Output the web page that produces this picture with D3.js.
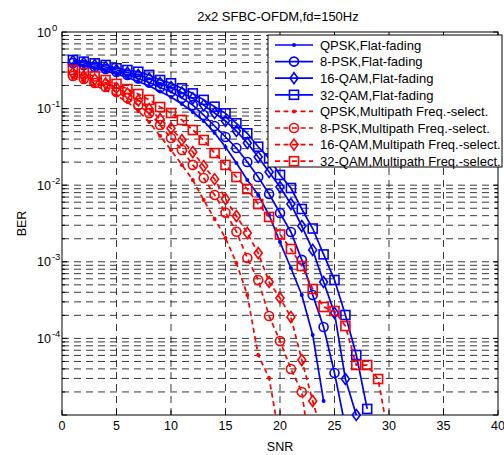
<!DOCTYPE html>
<html>
<head>
<meta charset="utf-8">
<script src="https://cdn.jsdelivr.net/npm/d3@7/dist/d3.min.js"></script>
<style>
body{margin:0;background:#fff;}
text{font-family:"Liberation Sans",Arial,sans-serif;fill:#000;}
</style>
</head>
<body>
<svg id="chart" width="504" height="455"></svg>
<script>
// SNR points (dB), one BER value per point, series stop where the curve stops
var snr = [1,2,3,4,5,6,7,8,9,10,11,12,13,14,15,16,17,18,19,20,21,22,23,24,25,26,27,28,29,30];

var qpskFlat = [0.382,0.360,0.334,0.310,0.283,0.255,0.226,0.197,0.167,0.142,0.115,0.0903,0.0689,0.0480,0.0315,0.0195,0.0117,0.00745,0.00408,0.00181,0.000830,0.000369,0.000111,0.0000152];
var psk8Flat = [0.394,0.371,0.349,0.329,0.300,0.275,0.247,0.219,0.189,0.165,0.138,0.111,0.0825,0.0593,0.0426,0.0306,0.0201,0.0128,0.00768,0.00434,0.00245,0.00106,0.000369,0.000141,0.0000353,0.0000070];
var qam16Flat = [0.418,0.394,0.371,0.349,0.319,0.296,0.275,0.247,0.216,0.191,0.162,0.136,0.111,0.0876,0.0689,0.0510,0.0356,0.0233,0.0149,0.00947,0.00568,0.00293,0.00143,0.000545,0.000215,0.0000295,0.0000100];
var qam32Flat = [0.431,0.410,0.390,0.371,0.336,0.319,0.303,0.275,0.236,0.214,0.184,0.158,0.130,0.106,0.0868,0.0643,0.0476,0.0318,0.0224,0.0136,0.00919,0.00489,0.00272,0.00125,0.000579,0.000202,0.0000607,0.0000120];

var qpskSel = [0.251,0.226,0.200,0.175,0.148,0.122,0.0930,0.0668,0.0439,0.0288,0.0184,0.0117,0.00641,0.00362,0.00204,0.000965,0.000369,0.0000607,0.0000304,0.0000047];
var psk8Sel = [0.266,0.243,0.216,0.191,0.165,0.138,0.111,0.0868,0.0611,0.0413,0.0288,0.0184,0.0124,0.00745,0.00438,0.00247,0.00112,0.000579,0.000196,0.0000925,0.0000399,0.0000200,0.0000020];
var qam16Sel = [0.292,0.266,0.240,0.213,0.186,0.157,0.128,0.0988,0.0731,0.0553,0.0389,0.0271,0.0178,0.0120,0.00660,0.00396,0.00238,0.00130,0.000545,0.000337,0.000190,0.0000522,0.0000152,0.0000049];
var qam32Sel = [0.319,0.292,0.263,0.236,0.210,0.180,0.155,0.130,0.105,0.0876,0.0710,0.0525,0.0389,0.0263,0.0184,0.0128,0.00892,0.00568,0.00385,0.00227,0.00147,0.000882,0.000442,0.000257,0.000228,0.000145,0.0000449,0.0000449,0.0000295,0.0000049];

var legendNames = ['QPSK,Flat-fading','8-PSK,Flat-fading','16-QAM,Flat-fading','32-QAM,Flat-fading',
  'QPSK,Multipath Freq.-select.','8-PSK,Multipath Freq.-select.','16-QAM,Multipath Freq.-select.','32-QAM,Multipath Freq.-select.'];

var xTicks = [0,5,10,15,20,25,30,35,40];
var yDecades = [0,-1,-2,-3,-4];

var series = [
  {vals: qpskFlat, color:'#0000ff', mark:'dot', dash:null},
  {vals: psk8Flat, color:'#0000ff', mark:'circle', dash:null},
  {vals: qam16Flat, color:'#0000ff', mark:'diamond', dash:null},
  {vals: qam32Flat, color:'#0000ff', mark:'square', dash:null},
  {vals: qpskSel, color:'#ff0000', mark:'dot', dash:'5,3.5'},
  {vals: psk8Sel, color:'#ff0000', mark:'circle', dash:'5,3.5'},
  {vals: qam16Sel, color:'#ff0000', mark:'diamond', dash:'5,3.5'},
  {vals: qam32Sel, color:'#ff0000', mark:'square', dash:'5,3.5'}
];

var pLeft = 62, pRight = 498, pTop = 32, pBottom = 415;
var svg = d3.select('#chart');

var x = d3.scaleLinear().domain([0, 40]).range([pLeft, pRight]);
var y = d3.scaleLog().domain([1e-5, 1]).range([pBottom, pTop]);

svg.append('defs').append('clipPath').attr('id', 'plotclip')
  .append('rect').attr('x', pLeft).attr('y', pTop).attr('width', pRight-pLeft).attr('height', pBottom-pTop);

// grid, dashed like matlab
var grid = svg.append('g').attr('stroke', '#222').attr('stroke-width', 0.9).attr('stroke-dasharray', '7,5');
xTicks.slice(1, -1).forEach(function(t){
  grid.append('line').attr('x1', x(t)).attr('x2', x(t)).attr('y1', pBottom).attr('y2', pTop);
});
var minorVals = [];
for(var d=-5; d<0; d++){
  for(var k=1; k<10; k++){
    if(d==-5 && k==1) continue;
    minorVals.push(k*Math.pow(10, d));
  }
}
minorVals.forEach(function(v){
  grid.append('line').attr('x1', pLeft).attr('x2', pRight).attr('y1', y(v)).attr('y2', y(v));
});

// ticks, inside the box on all four sides
var ticks = svg.append('g').attr('stroke', '#000').attr('stroke-width', 1);
xTicks.forEach(function(t){
  ticks.append('line').attr('x1', x(t)).attr('x2', x(t)).attr('y1', pBottom).attr('y2', pBottom-5);
  ticks.append('line').attr('x1', x(t)).attr('x2', x(t)).attr('y1', pTop).attr('y2', pTop+5);
});
minorVals.concat([1e-5, 1]).forEach(function(v){
  var len = (Math.abs(Math.log10(v) - Math.round(Math.log10(v))) < 1e-9) ? 5 : 3;
  ticks.append('line').attr('x1', pLeft).attr('x2', pLeft+len).attr('y1', y(v)).attr('y2', y(v));
  ticks.append('line').attr('x1', pRight).attr('x2', pRight-len).attr('y1', y(v)).attr('y2', y(v));
});

svg.append('rect').attr('x', pLeft).attr('y', pTop).attr('width', pRight-pLeft).attr('height', pBottom-pTop)
  .attr('fill', 'none').attr('stroke', '#000').attr('stroke-width', 1);

// tick labels
svg.append('g').selectAll('text').data(xTicks).enter().append('text')
  .attr('x', function(d){ return x(d); })
  .attr('y', 430)
  .attr('text-anchor', 'middle')
  .attr('font-size', 12.5)
  .text(function(d){ return d; });

var ylab = svg.append('g').selectAll('text').data(yDecades).enter().append('text')
  .attr('x', 37)
  .attr('y', function(d){ return y(Math.pow(10, d)) + 4.5; })
  .attr('font-size', 12.5);
ylab.append('tspan').text('10');
ylab.append('tspan').attr('dy', -6).attr('dx', 1).attr('font-size', 9.5).text(function(d){ return d; });

svg.append('text').attr('x', (pLeft+pRight)/2).attr('y', 451).attr('text-anchor', 'middle').attr('font-size', 12.5).text('SNR');
svg.append('text').attr('transform', 'translate(26,' + ((pTop+pBottom)/2) + ') rotate(-90)')
  .attr('text-anchor', 'middle').attr('font-size', 12.5).text('BER');
svg.append('text').attr('x', (pLeft+pRight)/2 - 2).attr('y', 21).attr('text-anchor', 'middle').attr('font-size', 13).text('2x2 SFBC-OFDM,fd=150Hz');

function drawMarker(g, type, color, cx, cy){
  if(type=='dot'){
    g.append('circle').attr('cx', cx).attr('cy', cy).attr('r', 2).attr('fill', color);
  } else if(type=='circle'){
    g.append('circle').attr('cx', cx).attr('cy', cy).attr('r', 4.5).attr('fill', 'none').attr('stroke', color).attr('stroke-width', 1.6);
  } else if(type=='diamond'){
    g.append('path').attr('d', 'M' + cx + ',' + (cy-5.5) + 'L' + (cx+4) + ',' + cy + 'L' + cx + ',' + (cy+5.5) + 'L' + (cx-4) + ',' + cy + 'Z')
      .attr('fill', 'none').attr('stroke', color).attr('stroke-width', 1.6);
  } else if(type=='square'){
    g.append('rect').attr('x', cx-4.5).attr('y', cy-4.5).attr('width', 9).attr('height', 9)
      .attr('fill', 'none').attr('stroke', color).attr('stroke-width', 1.6);
  }
}

var line = d3.line().x(function(d, i){ return x(snr[i]); }).y(function(d){ return y(d); });

series.forEach(function(s){
  var g = svg.append('g');
  g.append('path').attr('d', line(s.vals))
    .attr('clip-path', 'url(#plotclip)')
    .attr('fill', 'none').attr('stroke', s.color).attr('stroke-width', 1.7)
    .attr('stroke-dasharray', s.dash);
  s.vals.forEach(function(v, i){
    if(v >= 0.97e-5) drawMarker(g, s.mark, s.color, x(snr[i]), y(v));
  });
});

// legend
var lg = svg.append('g');
lg.append('rect').attr('x', 268).attr('y', 35).attr('width', 234).attr('height', 132)
  .attr('fill', '#fff').attr('stroke', '#000').attr('stroke-width', 1);
series.forEach(function(s, i){
  var ry = 45 + i*16.6;
  lg.append('line').attr('x1', 275).attr('x2', 313).attr('y1', ry).attr('y2', ry)
    .attr('stroke', s.color).attr('stroke-width', 1.7).attr('stroke-dasharray', s.dash);
  drawMarker(lg, s.mark, s.color, 294, ry);
  lg.append('text').attr('x', 320).attr('y', ry + 4.7).attr('font-size', 13).text(legendNames[i]);
});
</script>
</body>
</html>
